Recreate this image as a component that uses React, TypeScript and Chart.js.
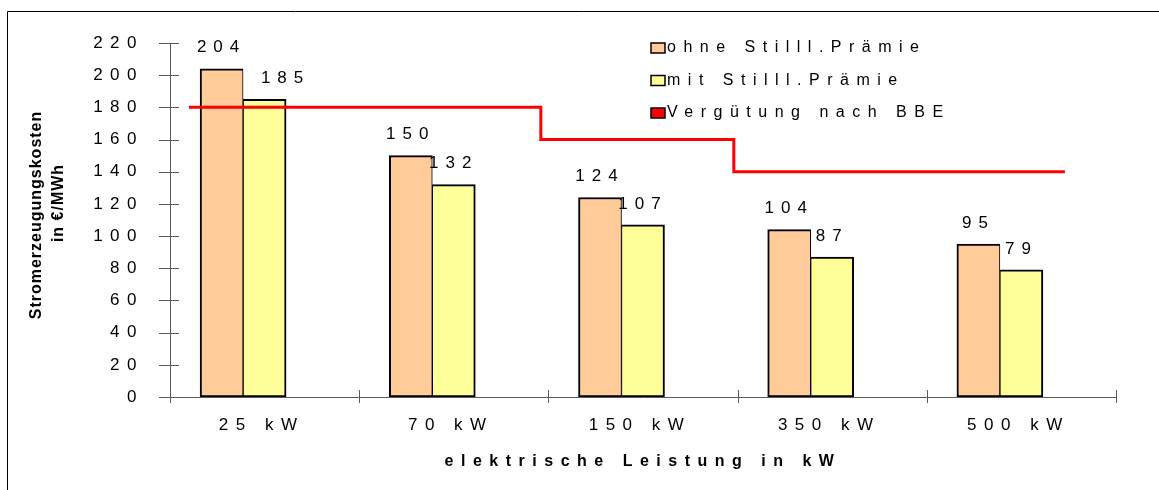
import { useEffect, useRef } from 'react';
import { Chart, registerables } from 'chart.js';

Chart.register(...registerables);

// ---------------- data ----------------
const categories = ['25 kW', '70 kW', '150 kW', '350 kW', '500 kW'];
const ohneStilllPraemie = [204, 150, 124, 104, 95];
const mitStilllPraemie = [185, 132, 107, 87, 79];
// BBE tariff step line: break positions in category units (0 = centre of first category)
const bbePositions = [-0.4, 1.46, 2.48, 4.23];
const bbeValues = [180, 160, 140, 140];
const yTickValues = [0, 20, 40, 60, 80, 100, 120, 140, 160, 180, 200, 220];
const seriesLabels = ['ohne Stilll.Prämie', 'mit Stilll.Prämie', 'Vergütung nach BBE'];
const xTitle = 'elektrische Leistung in kW';
const yTitleLines = ['Stromerzeugungskosten', 'in €/MWh'];

// ---------------- styles / layout ----------------
const FONT = '"Liberation Sans", Arial, Helvetica, sans-serif';
const ORANGE = '#FFCC99';
const YELLOW = '#FFFF99';
const RED = '#FF0000';
const AXIS = '#5a5a5a';
const SPACING = '7.5px';
// column width as a share of one category (columns: orange | yellow | empty slot)
const BAR_SLOT = 0.2273;

const spacingPlugin = {
  id: 'letterSpacingBase',
  beforeLayout(chart: any) {
    chart.ctx.letterSpacing = SPACING;
  },
  beforeDraw(chart: any) {
    chart.ctx.letterSpacing = SPACING;
  },
};

const seriesValues = [ohneStilllPraemie, mitStilllPraemie];

const decorPlugin = {
  id: 'decor',
  afterDatasetsDraw(chart: any) {
    const ctx = chart.ctx as CanvasRenderingContext2D;
    ctx.save();
    (ctx as any).letterSpacing = '7px';
    ctx.font = `17px ${FONT}`;
    ctx.fillStyle = '#000';
    ctx.textAlign = 'center';
    ctx.textBaseline = 'middle';
    const nudges: Record<string, number> = { '1:0': 21 };
    [0, 1].forEach((d) => {
      const meta = chart.getDatasetMeta(d);
      meta.data.forEach((el: any, i: number) => {
        const dx = nudges[`${d}:${i}`] || 0;
        ctx.fillText(String(seriesValues[d][i]), el.x + dx, el.y - 21);
      });
    });
    ctx.restore();
  },
  afterDraw(chart: any) {
    const ctx = chart.ctx as CanvasRenderingContext2D;
    const y = chart.scales.y;
    const xl = chart.scales.xLine;
    const area = chart.chartArea;
    ctx.save();
    (ctx as any).letterSpacing = '0px';

    // tick marks crossing the axes
    ctx.strokeStyle = AXIS;
    ctx.lineWidth = 1;
    ctx.beginPath();
    for (const t of y.ticks) {
      const py = Math.round(y.getPixelForValue(t.value)) + 0.5;
      ctx.moveTo(area.left - 11, py);
      ctx.lineTo(area.left + 9, py);
    }
    for (let i = 0; i <= categories.length; i++) {
      const px = Math.round(xl.getPixelForValue(i - 0.5)) + 0.5;
      ctx.moveTo(px, area.bottom - 7);
      ctx.lineTo(px, area.bottom + 6);
    }
    ctx.stroke();

    // outer frame
    ctx.strokeStyle = '#000';
    ctx.beginPath();
    ctx.moveTo(7.5, chart.height);
    ctx.lineTo(7.5, 11.5);
    ctx.lineTo(chart.width, 11.5);
    ctx.stroke();

    // y axis title (two lines, rotated)
    ctx.fillStyle = '#000';
    ctx.font = `bold 16px ${FONT}`;
    (ctx as any).letterSpacing = '1px';
    ctx.textAlign = 'center';
    ctx.textBaseline = 'middle';
    const yTitlePos = [
      [37, 215],
      [59, 203],
    ];
    yTitleLines.forEach((line, i) => {
      ctx.save();
      ctx.translate(yTitlePos[i][0], yTitlePos[i][1]);
      ctx.rotate(-Math.PI / 2);
      ctx.fillText(line, 0, 0);
      ctx.restore();
    });

    // legend
    (ctx as any).letterSpacing = '7.5px';
    ctx.font = `16px ${FONT}`;
    ctx.textAlign = 'left';
    const items = chart.data.datasets.filter((ds: any) => ds.label);
    items.forEach((ds: any, i: number) => {
      const cy = 48 + i * 32.5;
      const fill = ds.type === 'line' ? ds.borderColor : ds.backgroundColor;
      ctx.fillStyle = fill;
      ctx.fillRect(651, cy - 5, 14, 10);
      ctx.strokeStyle = '#000';
      ctx.lineWidth = 1.5;
      ctx.strokeRect(651, cy - 5, 14, 10);
      ctx.fillStyle = '#000';
      ctx.fillText(ds.label, 667, cy);
    });
    ctx.restore();
  },
};

export default function App() {
  const ref = useRef<HTMLCanvasElement>(null);

  useEffect(() => {
    const canvas = ref.current;
    if (!canvas) return;
    const barCommon = {
      type: 'bar',
      xAxisID: 'xLine',
      grouped: false,
      categoryPercentage: 1,
      barPercentage: 1,
      maxBarThickness: 43,
      borderColor: '#000',
      borderSkipped: false,
    };
    const chart = new Chart(canvas, {
      type: 'bar',
      data: {
        labels: categories,
        datasets: [
          {
            ...barCommon,
            label: seriesLabels[0],
            data: ohneStilllPraemie.map((v, i) => ({ x: i - BAR_SLOT, y: v })),
            backgroundColor: ORANGE,
            borderWidth: { top: 2, left: 2, right: 1, bottom: 2 },
          },
          {
            ...barCommon,
            label: seriesLabels[1],
            data: mitStilllPraemie.map((v, i) => ({ x: i, y: v })),
            backgroundColor: YELLOW,
            borderWidth: { top: 2, left: 1, right: 2, bottom: 2 },
          },
          {
            type: 'line',
            label: seriesLabels[2],
            data: bbePositions.map((x, i) => ({ x, y: bbeValues[i] })),
            xAxisID: 'xLine',
            borderColor: RED,
            backgroundColor: RED,
            borderWidth: 3,
            pointRadius: 0,
            stepped: 'before',
            fill: false,
            order: -1,
            borderCapStyle: 'butt',
            borderJoinStyle: 'miter',
          },
        ] as any,
      },
      options: {
        responsive: false,
        maintainAspectRatio: false,
        animation: false,
        layout: { padding: { left: 0, top: 43, right: 43, bottom: 0 } },
        plugins: {
          legend: { display: false },
          tooltip: { enabled: false },
        },
        scales: {
          x: {
            type: 'category',
            offset: true,
            grid: { display: false, drawTicks: false },
            border: { display: true, color: AXIS, width: 1 },
            ticks: {
              color: '#000',
              font: { family: FONT, size: 17 },
              padding: 18,
              labelOffset: -3,
              maxRotation: 0,
              autoSkip: false,
            },
            title: {
              display: true,
              text: xTitle,
              color: '#000',
              font: { family: FONT, size: 16, weight: 'bold' },
              padding: { top: 0, bottom: 19 },
            },
            afterFit: (s: any) => {
              s.height = 93;
            },
          },
          xLine: {
            type: 'linear',
            display: false,
            offset: false,
            grid: { offset: false },
            min: -0.5,
            max: categories.length - 0.5,
          },
          y: {
            type: 'linear',
            min: yTickValues[0],
            max: yTickValues[yTickValues.length - 1],
            grid: { display: false, drawTicks: false },
            border: { display: true, color: AXIS, width: 1 },
            ticks: {
              color: '#000',
              font: { family: FONT, size: 17 },
              padding: 26,
            },
            afterBuildTicks: (s: any) => {
              s.ticks = yTickValues.map((v) => ({ value: v }));
            },
            afterFit: (s: any) => {
              s.width = 170;
            },
          },
        } as any,
      },
      plugins: [spacingPlugin, decorPlugin],
    });
    return () => chart.destroy();
  }, []);

  return (
    <div style={{ position: 'fixed', left: 0, top: 0, width: 1159, height: 490 }}>
      <canvas ref={ref} width={1159} height={490} style={{ display: 'block' }} />
    </div>
  );
}
